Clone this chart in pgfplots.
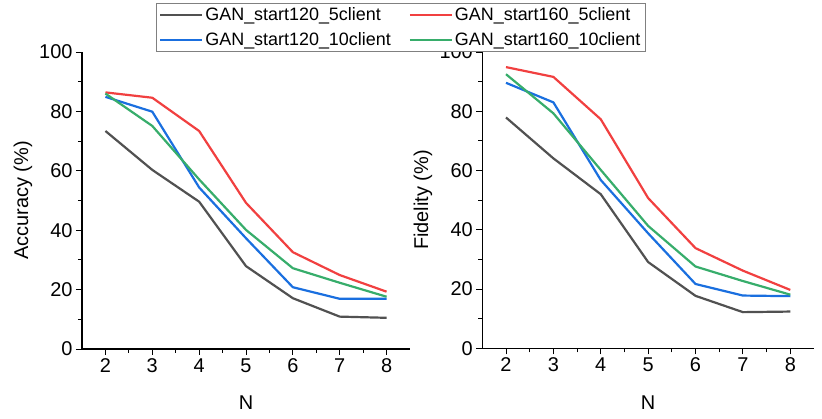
\documentclass[border=0pt]{standalone}
\usepackage{pgfplots}
\pgfplotsset{compat=1.18}
\usepackage{fontspec}
\setmainfont{Liberation Sans}
\definecolor{cblack}{HTML}{515151}
\definecolor{cred}{HTML}{F14040}
\definecolor{cblue}{HTML}{1A6FDF}
\definecolor{cgreen}{HTML}{37AD6B}
\pgfplotsset{
  mystyle/.style={
    scale only axis,
    axis lines*=left,
    xmin=1.5, xmax=8.5, ymin=0, ymax=100,
    xtick={2,3,4,5,6,7,8}, ytick={0,20,40,60,80,100},
    minor x tick num=1, minor y tick num=1,
    tick align=outside,
    major tick length=6bp, minor tick length=4bp,
    tick style={black, line width=0.9bp},
    axis line style={black, line width=1.1bp},
    every axis plot/.append style={line width=2.2bp, line join=round},
    /pgf/number format/assume math mode=true,
    tick label style={font=\fontsize{20}{24}\selectfont},
    label style={font=\fontsize{20}{24}\selectfont},
    xlabel={N},
    x label style={at={(axis description cs:0.5,-0.182)}, anchor=center},
    clip=false,
  }
}
\begin{document}
\begin{tikzpicture}
\path[use as bounding box] (0bp,0bp) rectangle (822bp,419bp);
\begin{axis}[mystyle, at={(82bp,70bp)}, anchor=south west, width=328bp, height=297bp,
  ylabel={Accuracy (\%)},
  y label style={at={(axis description cs:-0.18,0.5)}, anchor=center}]
\addplot[cblack] coordinates {(2,73.4)(3,60.3)(4,49.6)(5,27.9)(6,17.1)(7,10.9)(8,10.5)};
\addplot[cred] coordinates {(2,86.4)(3,84.6)(4,73.4)(5,49.2)(6,32.6)(7,24.9)(8,19.3)};
\addplot[cblue] coordinates {(2,84.9)(3,79.9)(4,54.4)(5,37.3)(6,20.8)(7,16.9)(8,16.9)};
\addplot[cgreen] coordinates {(2,86.0)(3,75.1)(4,57.1)(5,40.1)(6,27.2)(7,22.3)(8,17.6)};
\end{axis}
\begin{axis}[mystyle, at={(482.3bp,70.7bp)}, anchor=south west, width=331.7bp, height=296.3bp,
  ylabel={Fidelity (\%)},
  y label style={at={(axis description cs:-0.179,0.5)}, anchor=center},
  legend columns=2,
  legend cell align=left,
  legend style={at={(axis description cs:-0.2457,1.165)}, anchor=north,
    draw=gray, line width=0.8bp, fill=white,
    font=\fontsize{18}{21}\selectfont, inner sep=2.5bp, row sep=6bp,
    /tikz/every even column/.append style={column sep=16bp}},
  legend image code/.code={\draw[#1] (0bp,0bp) -- (42bp,0bp);}]
\addplot[cblack] coordinates {(2,77.9)(3,64.1)(4,52.0)(5,29.1)(6,17.7)(7,12.2)(8,12.4)};
\addplot[cred] coordinates {(2,94.9)(3,91.6)(4,77.3)(5,50.7)(6,33.8)(7,26.2)(8,19.7)};
\addplot[cblue] coordinates {(2,89.6)(3,83.0)(4,56.8)(5,38.8)(6,21.7)(7,17.8)(8,17.6)};
\addplot[cgreen] coordinates {(2,92.5)(3,79.3)(4,60.2)(5,41.3)(6,27.6)(7,22.7)(8,18.1)};
\legend{GAN\_start120\_5client, GAN\_start160\_5client, GAN\_start120\_10client, GAN\_start160\_10client}
\end{axis}
\end{tikzpicture}
\end{document}
